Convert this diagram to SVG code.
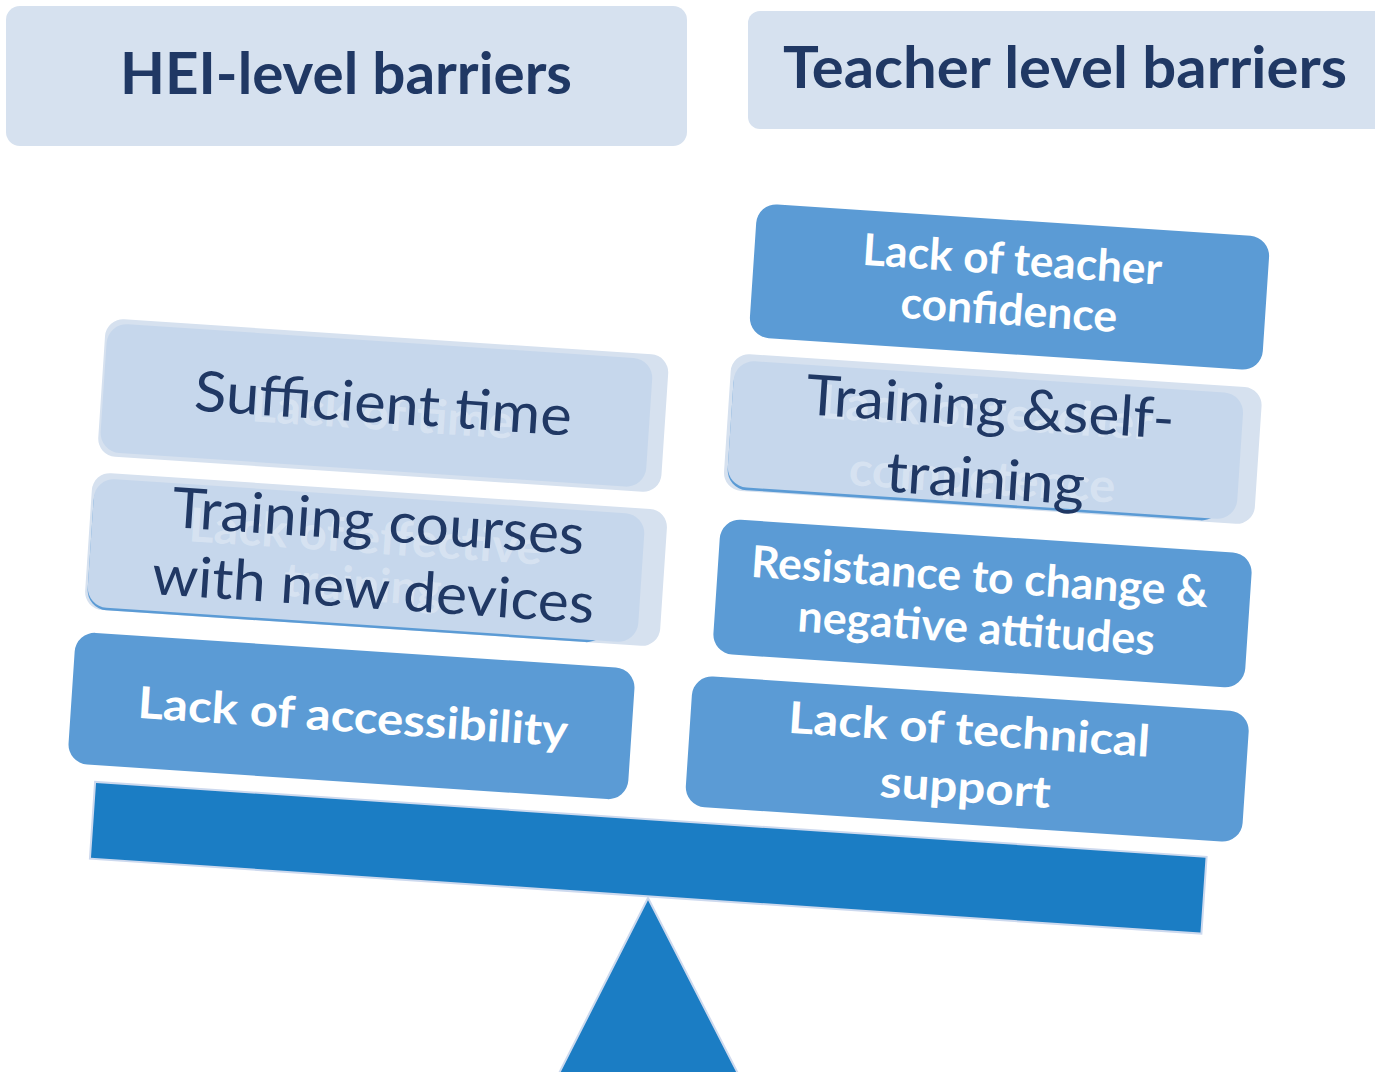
<svg xmlns="http://www.w3.org/2000/svg" width="1375" height="1072" viewBox="0 0 1375 1072">
  <style>
    .hdr-box { fill: #d6e1ef; }
    .back { fill: #d6e1ef; }
    .front { fill: #c6d7ec; }
    .blue { fill: #5b9bd5; }
    .base { fill: #1b7dc4; stroke: #cdd9ee; stroke-width: 2; }
    text { font-family: Lato, "Open Sans", "Liberation Sans", sans-serif; text-anchor: middle; }
    .hdr-text { fill: #203864; font-weight: 700; font-size: 57px; }
    .dark { fill: #203864; font-weight: 400; font-size: 56px; }
    .ghost { fill: #ffffff; fill-opacity: 0.3; font-weight: 700; font-size: 47px; }
    .light { fill: #ffffff; font-weight: 700; font-size: 44px; }
  </style>

  <!-- column headers -->
  <g id="hei-header">
    <rect class="hdr-box" x="6" y="6" width="681" height="140" rx="14"/>
    <text class="hdr-text" x="346" y="94" textLength="452" lengthAdjust="spacingAndGlyphs">HEI-level barriers</text>
  </g>
  <g id="teacher-header">
    <rect class="hdr-box" x="748" y="11" width="660" height="118" rx="12"/>
    <text class="hdr-text" x="1065" y="88" textLength="564" lengthAdjust="spacingAndGlyphs">Teacher level barriers</text>
  </g>

  <!-- fulcrum and tilted beam -->
  <g id="fulcrum">
    <polygon class="base" points="648,898 548,1095 749,1095"/>
  </g>
  <g id="beam" transform="translate(648.25 857.75) rotate(3.86)">
    <rect class="base" x="-557" y="-38.5" width="1114" height="77"/>
  </g>

  <!-- HEI-level column -->
  <g id="sufficient-time" transform="translate(383 406) rotate(3.8)">
    <rect class="back" x="-282" y="-69.4" width="564.4" height="137.8" rx="18"/>
    <rect class="front" x="-280" y="-64.6" width="546.8" height="129" rx="20"/>
    <text class="ghost" x="0" y="24" textLength="262" lengthAdjust="spacingAndGlyphs">Lack of time</text>
    <text class="dark" x="0" y="17" textLength="378" lengthAdjust="spacingAndGlyphs">Sufficient time</text>
  </g>

  <g id="training-courses" transform="translate(376.25 559.75) rotate(3.8)">
    <rect class="back" x="-288.4" y="-68.8" width="576.3" height="137.1" rx="18"/>
    <rect class="blue" x="-286" y="-60.5" width="520" height="128.8" rx="20"/>
    <rect class="front" x="-286" y="-63" width="551.7" height="128.8" rx="20"/>
    <text class="ghost" x="-12" y="-6" textLength="354" lengthAdjust="spacingAndGlyphs">Lack of effective</text>
    <text class="ghost" x="-12" y="42" textLength="158" lengthAdjust="spacingAndGlyphs">training</text>
    <text class="dark" x="-0.5" y="-19" textLength="413" lengthAdjust="spacingAndGlyphs">Training courses</text>
    <text class="dark" x="-1" y="49" textLength="443" lengthAdjust="spacingAndGlyphs">with new devices</text>
  </g>

  <g id="lack-accessibility" transform="translate(351.5 716) rotate(3.8)">
    <rect class="blue" x="-280.5" y="-66" width="561" height="132" rx="20"/>
    <text class="light" x="1.5" y="16" font-size="48" textLength="431" lengthAdjust="spacingAndGlyphs">Lack of accessibility</text>
  </g>

  <!-- Teacher-level column -->
  <g id="teacher-confidence" transform="translate(1009.5 287) rotate(3.8)">
    <rect class="blue" x="-257" y="-67" width="514" height="134" rx="20"/>
    <text class="light" x="1" y="-12.4" textLength="300" lengthAdjust="spacingAndGlyphs">Lack of teacher</text>
    <text class="light" x="1" y="38" textLength="217" lengthAdjust="spacingAndGlyphs">confidence</text>
  </g>

  <g id="self-training" transform="translate(992.75 439.5) rotate(3.8)">
    <rect class="back" x="-266" y="-69" width="532" height="137" rx="18"/>
    <rect class="blue" x="-262.5" y="-59.5" width="495" height="126.4" rx="20"/>
    <rect class="front" x="-262.5" y="-62.2" width="510.5" height="126.4" rx="20"/>
    <text class="ghost" x="-8" y="-10" textLength="333" lengthAdjust="spacingAndGlyphs">Lack of teacher</text>
    <text class="ghost" x="-8" y="55" textLength="267" lengthAdjust="spacingAndGlyphs">competence</text>
    <text class="dark" x="-4.5" y="-12.7" font-size="57" textLength="369" lengthAdjust="spacingAndGlyphs">Training &amp;self-</text>
    <text class="dark" x="-4.5" y="59" font-size="57" textLength="199" lengthAdjust="spacingAndGlyphs">training</text>
  </g>

  <g id="resistance" transform="translate(982.5 603.5) rotate(3.8)">
    <rect class="blue" x="-266.5" y="-67.5" width="533" height="135" rx="20"/>
    <text class="light" x="-4.5" y="-11.4" textLength="458" lengthAdjust="spacingAndGlyphs">Resistance to change &amp;</text>
    <text class="light" x="-4.5" y="40" textLength="358" lengthAdjust="spacingAndGlyphs">negative attitudes</text>
  </g>

  <g id="technical-support" transform="translate(967.25 759) rotate(3.8)">
    <rect class="blue" x="-279" y="-65.5" width="558" height="131" rx="20"/>
    <text class="light" x="0" y="-14.3" font-size="47" textLength="362" lengthAdjust="spacingAndGlyphs">Lack of technical</text>
    <text class="light" x="0" y="43.4" font-size="47" textLength="171" lengthAdjust="spacingAndGlyphs">support</text>
  </g>
</svg>
